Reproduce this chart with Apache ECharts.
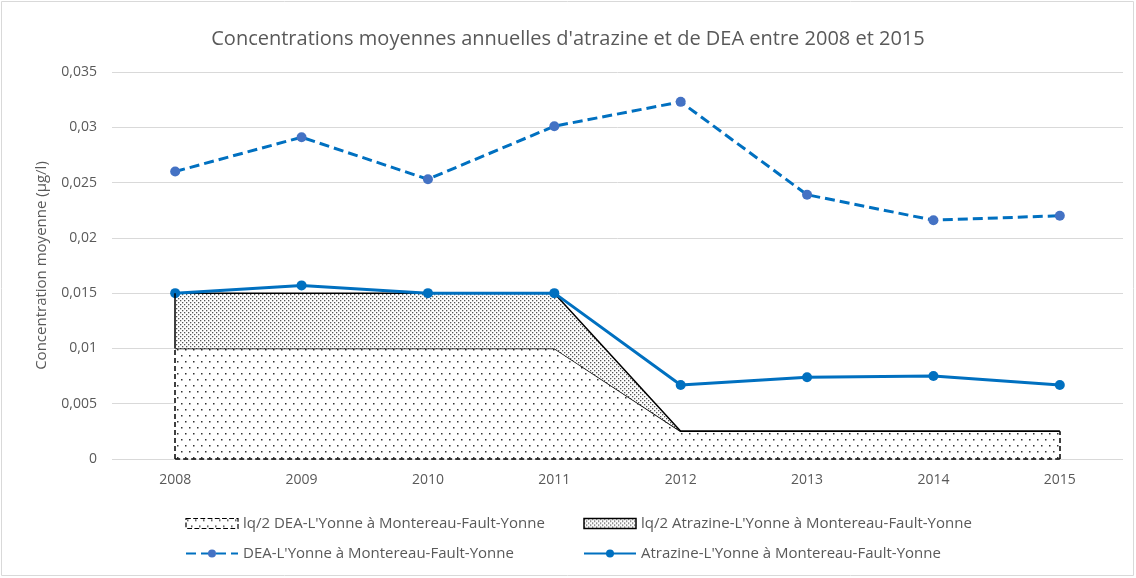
<!DOCTYPE html>
<html>
<head>
<meta charset="utf-8">
<script src="https://cdn.jsdelivr.net/npm/echarts@6/dist/echarts.min.js"></script>
<style>
  html, body { margin: 0; padding: 0; background: #fff; }
  #chart { width: 1136px; height: 578px; }
</style>
</head>
<body>
<div id="chart"></div>
<script>
// données
var years = ['2008', '2009', '2010', '2011', '2012', '2013', '2014', '2015'];
var lqDea = [0.01, 0.01, 0.01, 0.01, 0.0025, 0.0025, 0.0025, 0.0025];
// lq/2 atrazine empilé au-dessus de lq/2 DEA
var lqAtrazine = [0.005, 0.005, 0.005, 0.005, 0, 0, 0, 0];
var dea = [0.0260, 0.0291, 0.0253, 0.0301, 0.0323, 0.0239, 0.0216, 0.0220];
var atrazine = [0.0150, 0.0157, 0.0150, 0.0150, 0.0067, 0.0074, 0.0075, 0.0067];

var names = [
  "lq/2 DEA-L'Yonne à Montereau-Fault-Yonne",
  "lq/2 Atrazine-L'Yonne à Montereau-Fault-Yonne",
  "DEA-L'Yonne à Montereau-Fault-Yonne",
  "Atrazine-L'Yonne à Montereau-Fault-Yonne"
];

var blue = '#0070C0';
var txt = '#595959';
var font = '"Open Sans", "Noto Sans", sans-serif';

// motifs de points (remplissage des aires)
function dots(w, h, pts, col, r) {
  var c = document.createElement('canvas');
  c.width = w; c.height = h;
  var ctx = c.getContext('2d');
  ctx.fillStyle = '#fff';
  ctx.fillRect(0, 0, w, h);
  ctx.fillStyle = col;
  pts.forEach(function (p) { ctx.fillRect(p[0], p[1], r, r); });
  return { image: c, repeat: 'repeat' };
}
var patSparse = dots(8, 12, [[1, 1], [5, 7]], '#333', 1.5);
var patDense = dots(4, 4, [[0, 0], [2, 2]], '#555', 1.3);

function fmt(v) {
  return String(parseFloat(v.toFixed(3))).replace('.', ',');
}

var last = years.length - 1;
var chart = echarts.init(document.getElementById('chart'));
chart.setOption({
  animation: false,
  textStyle: { fontFamily: font },
  title: {
    text: "Concentrations moyennes annuelles d'atrazine et de DEA entre 2008 et 2015",
    left: 'center',
    top: 24,
    textStyle: { color: txt, fontSize: 20, fontWeight: 'normal', fontFamily: font }
  },
  graphic: [{
    type: 'rect',
    shape: { x: 1.5, y: 1.5, width: 1132, height: 574 },
    style: { fill: null, stroke: '#D9D9D9', lineWidth: 1 },
    silent: true
  }],
  grid: { left: 112, top: 72, width: 1011, height: 387 },
  legend: [{
    orient: 'vertical',
    left: 180, top: 511,
    itemGap: 15,
    itemWidth: 52, itemHeight: 10,
    textStyle: { color: txt, fontSize: 15 },
    data: [
      { name: names[0], icon: 'rect',
        itemStyle: { color: patSparse, borderColor: '#000', borderWidth: 1.2, borderType: 'dashed' } },
      { name: names[2] }
    ]
  }, {
    orient: 'vertical',
    left: 578, top: 511,
    itemGap: 15,
    itemWidth: 52, itemHeight: 10,
    textStyle: { color: txt, fontSize: 15 },
    data: [
      { name: names[1], icon: 'rect',
        itemStyle: { color: patDense, borderColor: '#000', borderWidth: 1.5 } },
      { name: names[3] }
    ]
  }],
  xAxis: {
    type: 'category',
    data: years,
    boundaryGap: true,
    axisLine: { show: false },
    axisTick: { show: false },
    axisLabel: { color: txt, fontSize: 14, margin: 14 }
  },
  yAxis: {
    type: 'value',
    min: 0, max: 0.035, interval: 0.005,
    name: 'Concentration moyenne (µg/l)',
    nameLocation: 'middle',
    nameGap: 63,
    nameTextStyle: { color: txt, fontSize: 15 },
    axisLabel: { color: txt, fontSize: 14, margin: 15, formatter: fmt },
    splitLine: { lineStyle: { color: '#D9D9D9', width: 1 } }
  },
  series: [{
    name: names[0],
    type: 'line',
    stack: 'lq',
    data: lqDea,
    symbol: 'none',
    lineStyle: { color: '#000', width: 1.5 },
    itemStyle: { color: '#fff' },
    areaStyle: { color: patSparse, opacity: 1 },
    z: 1,
    markLine: {
      silent: true,
      symbol: 'none',
      label: { show: false },
      lineStyle: { color: '#000', width: 1.5, type: [5, 3] },
      data: [
        [{ coord: [years[0], 0] }, { coord: [years[0], lqDea[0]] }],
        [{ coord: [years[last], 0] }, { coord: [years[last], lqDea[last]] }],
        [{ coord: [years[0], 0] }, { coord: [years[last], 0] }]
      ]
    }
  }, {
    name: names[1],
    type: 'line',
    stack: 'lq',
    data: lqAtrazine,
    symbol: 'none',
    lineStyle: { color: '#000', width: 1.5 },
    areaStyle: { color: patDense, opacity: 1 },
    z: 2,
    markLine: {
      silent: true,
      symbol: 'none',
      label: { show: false },
      lineStyle: { color: '#000', width: 1.5, type: 'solid' },
      data: [
        [{ coord: [years[0], lqDea[0]] }, { coord: [years[0], lqDea[0] + lqAtrazine[0]] }]
      ]
    }
  }, {
    name: names[2],
    type: 'line',
    data: dea,
    symbol: 'circle',
    symbolSize: 10,
    lineStyle: { color: blue, width: 3, type: [10, 5] },
    itemStyle: { color: '#4472C4' },
    z: 3
  }, {
    name: names[3],
    type: 'line',
    data: atrazine,
    symbol: 'circle',
    symbolSize: 10,
    lineStyle: { color: blue, width: 3 },
    itemStyle: { color: blue },
    z: 4
  }]
});
</script>
</body>
</html>
